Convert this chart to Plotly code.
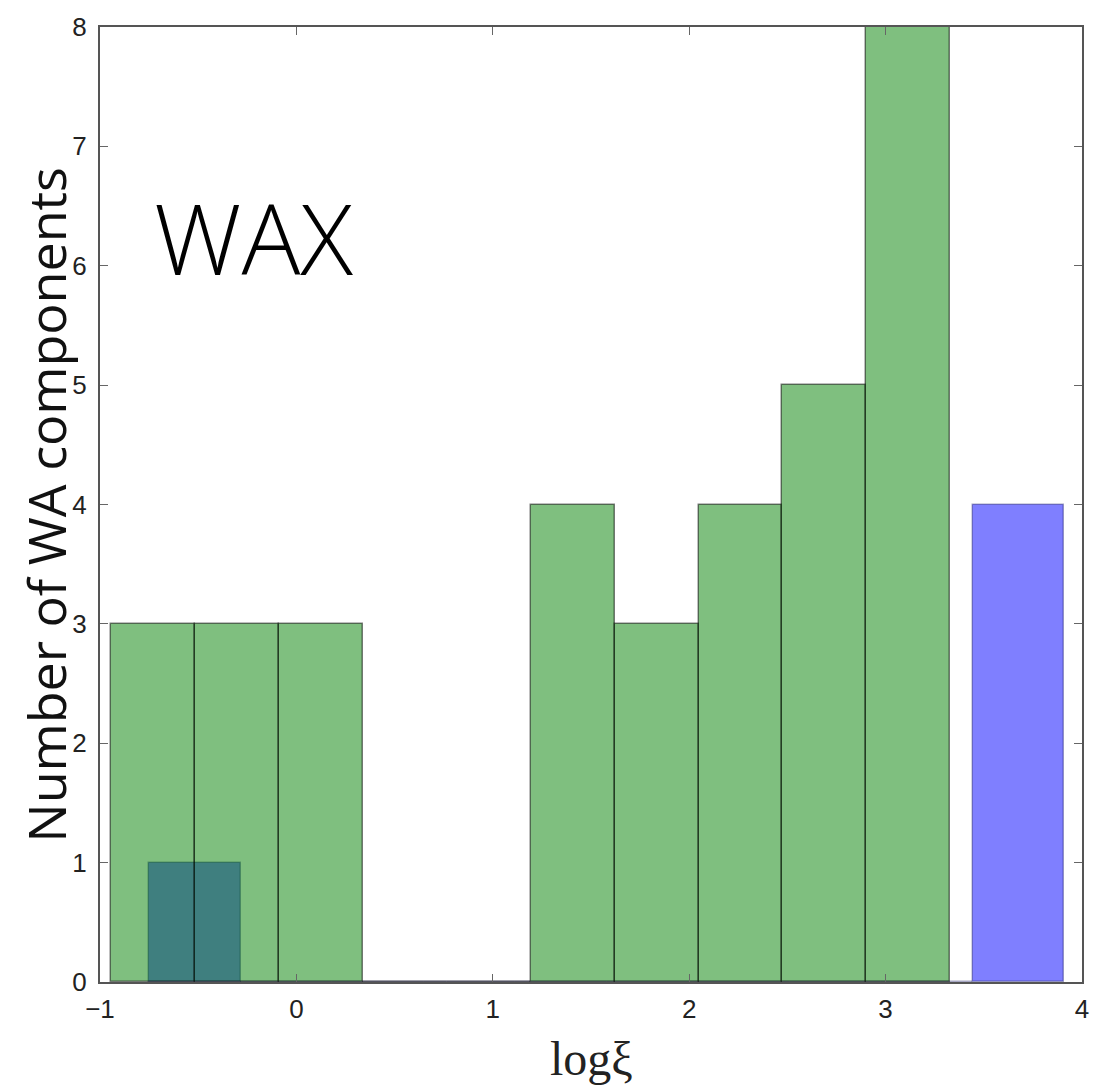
import plotly.graph_objects as go

# Histogram bin edges (log xi) and counts for the two samples
green_edges = [-0.945, -0.5175, -0.09, 0.3375, 0.765, 1.1925, 1.62, 2.0475, 2.475, 2.9025, 3.33]
green_counts = [3, 3, 3, 0, 0, 4, 3, 4, 5, 8]

blue_edges = [-0.749, -0.2832, 0.1826, 0.6484, 1.1142, 1.58, 2.0458, 2.5116, 2.9774, 3.4432, 3.909]
blue_counts = [1, 0, 0, 0, 0, 0, 0, 0, 0, 4]

x_ticks = [-1, 0, 1, 2, 3, 4]
y_ticks = [0, 1, 2, 3, 4, 5, 6, 7, 8]


def centers_widths(edges):
    c = [(a + b) / 2 for a, b in zip(edges[:-1], edges[1:])]
    w = [b - a for a, b in zip(edges[:-1], edges[1:])]
    return c, w


bc, bw = centers_widths(blue_edges)
gc, gw = centers_widths(green_edges)

fig = go.Figure()
fig.add_trace(go.Bar(
    x=bc, y=blue_counts, width=bw,
    marker=dict(color="rgba(0,0,255,0.5)", line=dict(color="rgba(0,0,80,0.35)", width=1.5)),
    hoverinfo="skip", showlegend=False,
))
fig.add_trace(go.Bar(
    x=gc, y=green_counts, width=gw,
    marker=dict(color="rgba(0,128,0,0.5)", line=dict(color="rgba(0,0,0,0.5)", width=1.5)),
    hoverinfo="skip", showlegend=False,
))

axis_common = dict(
    showline=True, linecolor="#555555", linewidth=2,
    ticks="inside", ticklen=8, tickwidth=1.2, tickcolor="#666666",
    mirror="allticks", showgrid=False, zeroline=False,
    tickfont=dict(family="Liberation Sans", size=26, color="#222222"),
)

fig.update_layout(
    width=1110, height=1091,
    margin=dict(l=100, r=28, t=22, b=109),
    paper_bgcolor="white", plot_bgcolor="white",
    barmode="overlay", bargap=0,
    xaxis=dict(range=[-1, 4], tickvals=x_ticks, ticktext=["\u22121", "0", "1", "2", "3", "4"],
               ticklabelstandoff=3, **axis_common),
    yaxis=dict(range=[0, 8], tickvals=y_ticks, ticklabelstandoff=6, **axis_common),
    annotations=[
        dict(text="Number of WA components", textangle=-90, xref="paper", yref="paper",
             x=-0.055, y=0.5, xanchor="center", yanchor="middle", showarrow=False,
             font=dict(family="Open Sans", size=52, color="#111111")),
        dict(text="log\u03be", xref="paper", yref="paper", x=0.5, y=-0.08,
             xanchor="center", yanchor="middle", showarrow=False,
             font=dict(family="Liberation Serif", size=48, color="#222222")),
        dict(text="WAX", xref="x", yref="y", x=-0.22, y=6.24,
             xanchor="center", yanchor="middle", showarrow=False,
             font=dict(family="Open Sans", size=98, color="black", weight=300)),
    ],
)

fig.write_html("out.html")
